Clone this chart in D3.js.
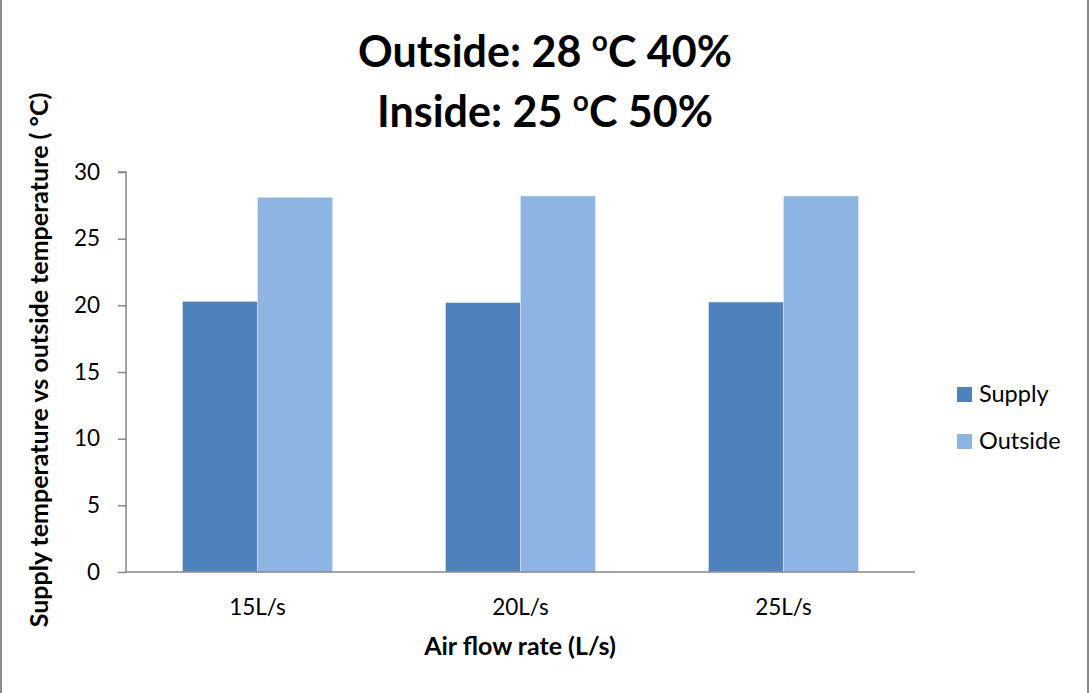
<!DOCTYPE html>
<html><head><meta charset="utf-8">
<script src="https://cdn.jsdelivr.net/npm/d3@7"></script>
<style>body{margin:0;background:#fff}svg{display:block;font-family:Lato,"Open Sans",sans-serif}</style>
</head><body><svg id="c" width="1091" height="693"></svg>
<script>
const categories = ["15L/s", "20L/s", "25L/s"];
const seriesNames = ["Supply", "Outside"];
const supplyValues = [20.3, 20.2, 20.25];
const outsideValues = [28.1, 28.2, 28.2];
const yTicks = [0, 5, 10, 15, 20, 25, 30];
const colors = ["#4f81bd", "#8eb4e3"];

const svg = d3.select("#c");
const m = {l: 126, r: 915, t: 172, b: 572};

// border
svg.append("line").attr("x1",1).attr("x2",1).attr("y1",0).attr("y2",693).attr("stroke","#8c8c8c").attr("stroke-width",2);
svg.append("line").attr("x1",1088).attr("x2",1088).attr("y1",0).attr("y2",693).attr("stroke","#8c8c8c").attr("stroke-width",2);

const x = d3.scaleBand().domain(categories).range([m.l, m.r]).paddingInner(0).paddingOuter(0);
const y = d3.scaleLinear().domain([0, 30]).range([m.b, m.t]);
const x1 = d3.scaleBand().domain(seriesNames).range([0, x.bandwidth()]).paddingInner(0).paddingOuter(0.753);

const data = categories.map((c,i)=>({cat:c, vals:[supplyValues[i], outsideValues[i]]}));
const g = svg.append("g");
data.forEach(d=>{
  d.vals.forEach((v,j)=>{
    g.append("rect")
      .attr("x", x(d.cat)+x1(seriesNames[j]))
      .attr("y", y(v))
      .attr("width", x1.bandwidth())
      .attr("height", y(0)-y(v))
      .attr("fill", colors[j])
      .attr("stroke", "#dce6f2").attr("stroke-width", 0.6);
  });
});

// y axis
const ya = svg.append("g").attr("transform",`translate(${m.l},0)`)
  .call(d3.axisLeft(y).tickValues(yTicks).tickSize(8).tickPadding(18));
ya.select(".domain").attr("stroke","#868686").attr("stroke-width",1.5).attr("d",`M-8,${m.t}H0V${m.b}`);
ya.selectAll(".tick line").attr("stroke","#868686").attr("stroke-width",1.5);
ya.selectAll(".tick text").attr("font-size",22.5).attr("fill","#000").attr("font-family","Lato");

// x axis
const xa = svg.append("g").attr("transform",`translate(0,${m.b})`)
  .call(d3.axisBottom(x).tickSize(0).tickPadding(43));
xa.select(".domain").attr("stroke","#868686").attr("stroke-width",1.5).attr("d",`M${m.l},0H${m.r}`);
xa.selectAll(".tick text").attr("font-size",22.5).attr("fill","#000").attr("font-family","Lato").attr("dy","0");

// title
function titleLine(y0, pre, post){
  const t = svg.append("text").attr("text-anchor","middle").attr("font-weight","bold").attr("font-size",43).attr("fill","#000").attr("x",545).attr("y",y0);
  t.append("tspan").text(pre);
  t.append("tspan").attr("dy",-16).attr("font-size",28).text("o");
  t.append("tspan").attr("dy",16).text(post);
}
titleLine(67, "Outside: 28 ", "C 40%");
titleLine(127, "Inside: 25 ", "C 50%");

// axis titles
svg.append("text").attr("transform","translate(48,360) rotate(-90)").attr("text-anchor","middle")
  .attr("font-weight","bold").attr("font-size",25).attr("fill","#000")
  .text("Supply temperature vs outside temperature ( °C)");
svg.append("text").attr("x",520).attr("y",655).attr("text-anchor","middle")
  .attr("font-weight","bold").attr("font-size",25).attr("fill","#000")
  .text("Air flow rate (L/s)");

// legend
seriesNames.forEach((s,i)=>{
  const ly = 387 + i*47;
  svg.append("rect").attr("x",957).attr("y",ly).attr("width",15).attr("height",15).attr("fill",colors[i]);
  svg.append("text").attr("x",979).attr("y",ly+15).attr("font-size",23.5).attr("fill","#000").text(s);
});
</script></body></html>
